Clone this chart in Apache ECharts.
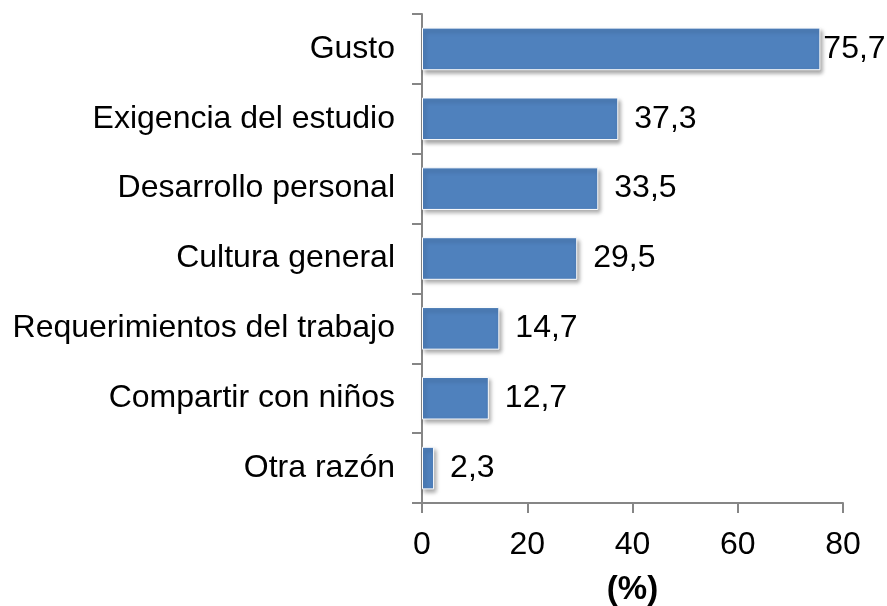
<!DOCTYPE html>
<html>
<head>
<meta charset="utf-8">
<script src="https://cdn.jsdelivr.net/npm/echarts@6/dist/echarts.min.js"></script>
<style>
  html, body { margin: 0; padding: 0; background: #fff; }
  #chart { width: 887px; height: 606px; }
</style>
</head>
<body>
<div id="chart"></div>
<script>
// categories top -> bottom
const categories = [
  "Gusto",
  "Exigencia del estudio",
  "Desarrollo personal",
  "Cultura general",
  "Requerimientos del trabajo",
  "Compartir con niños",
  "Otra razón"
];
const values = [75.7, 37.3, 33.5, 29.5, 14.7, 12.7, 2.3];
const xTicks = [0, 20, 40, 60, 80];

const font = "'Liberation Sans', Arial, sans-serif";
const axisGray = "#868686";
const fs = 32;

const chart = echarts.init(document.getElementById("chart"));

const seriesData = values.map((v, i) => {
  return {
    value: v,
    // the longest bar has its label pulled in close, like the original
    label: { distance: i === 0 ? 3 : 16 }
  };
});

chart.setOption({
  animation: false,
  grid: { left: 422, right: 44, top: 14, bottom: 103, outerBoundsMode: "none" },
  xAxis: {
    type: "value",
    min: xTicks[0],
    max: xTicks[xTicks.length - 1],
    interval: 20,
    name: "(%)",
    nameLocation: "middle",
    nameGap: 70,
    nameTextStyle: { fontFamily: font, fontSize: 33, fontWeight: "bold", color: "#000" },
    axisLine: { show: true, lineStyle: { color: axisGray, width: 2 } },
    axisTick: { show: true, length: 10, lineStyle: { color: axisGray, width: 2 } },
    axisLabel: { margin: 26, fontFamily: font, fontSize: fs, color: "#000" },
    splitLine: { show: false }
  },
  yAxis: {
    type: "category",
    data: categories,
    inverse: true,
    axisLine: { show: true, lineStyle: { color: axisGray, width: 2 } },
    axisTick: { show: true, length: 10, lineStyle: { color: axisGray, width: 2 } },
    axisLabel: { margin: 27, fontFamily: font, fontSize: fs, color: "#000" }
  },
  series: [
    {
      type: "bar",
      data: seriesData,
      barWidth: "61%",
      itemStyle: {
        color: "#4F81BD",
        borderColor: "#ffffff",
        borderWidth: 1,
        shadowColor: "rgba(0,0,0,0.35)",
        shadowBlur: 4,
        shadowOffsetX: 2,
        shadowOffsetY: 3
      },
      label: {
        show: true,
        position: "right",
        fontFamily: font,
        fontSize: fs,
        color: "#000",
        formatter: (p) => p.value.toFixed(1).replace(".", ",")
      }
    }
  ]
});
</script>
</body>
</html>
